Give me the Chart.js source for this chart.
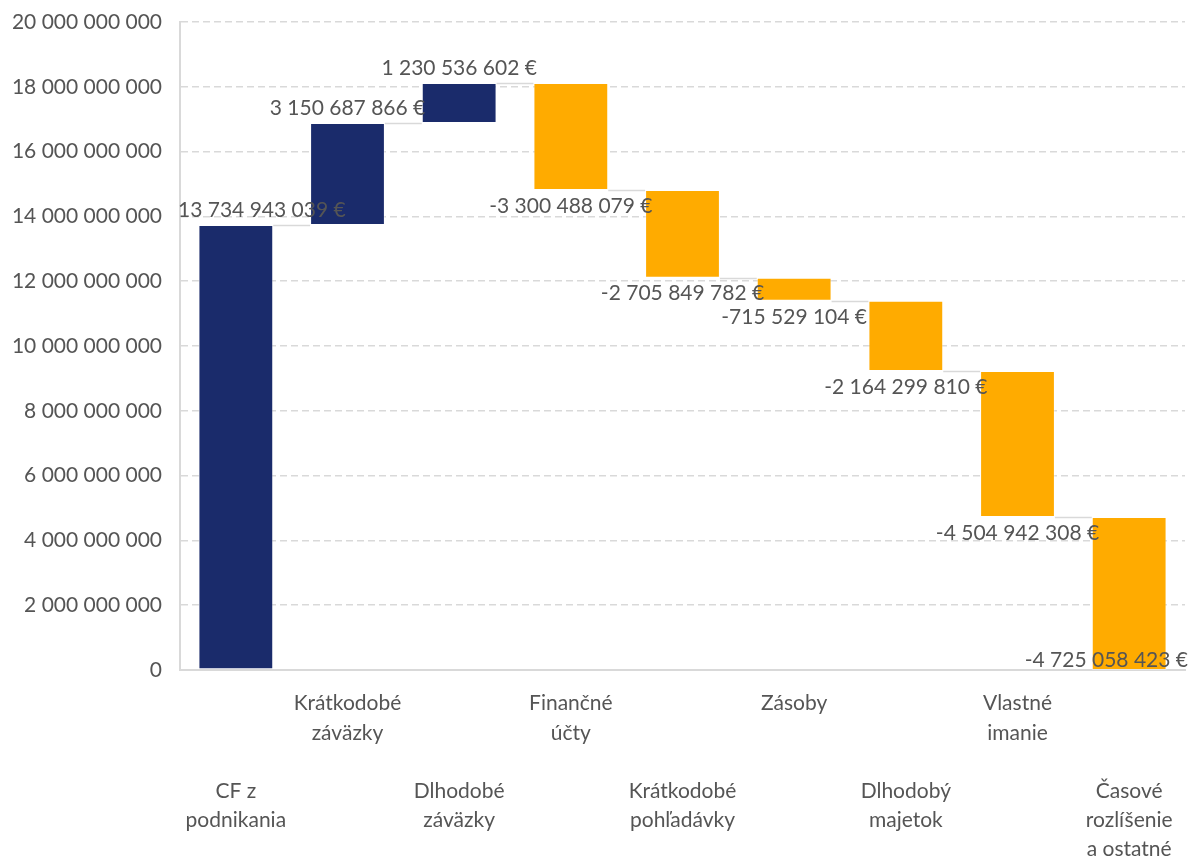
<!DOCTYPE html>
<html>
<head>
<meta charset="utf-8">
<script src="https://cdn.jsdelivr.net/npm/chart.js@4.4.1/dist/chart.umd.min.js"></script>
<style>
  html, body { margin: 0; padding: 0; background: #ffffff; }
  #wrap { width: 1190px; height: 858px; position: relative; }
</style>
</head>
<body>
<div id="wrap"><canvas id="c" width="1190" height="858"></canvas></div>
<script>
// ---- Data ----
const categories = [
  ['CF z', 'podnikania'],
  ['Krátkodobé', 'záväzky'],
  ['Dlhodobé', 'záväzky'],
  ['Finančné', 'účty'],
  ['Krátkodobé', 'pohľadávky'],
  ['Zásoby'],
  ['Dlhodobý', 'majetok'],
  ['Vlastné', 'imanie'],
  ['Časové', 'rozlíšenie', 'a ostatné']
];
const values = [
  13734943039, 3150687866, 1230536602, -3300488079, -2705849782,
  -715529104, -2164299810, -4504942308, -4725058423
];
const yMin = 0;
const yMax = 20000000000;
const yStep = 2000000000;

// ---- Derived (waterfall ranges) ----
const ranges = [];
const ends = [];
let run = 0;
values.forEach((v) => { const s = run; run += v; ranges.push([s, run]); ends.push(run); });

const BLUE = '#1a2b6b';
const ORANGE = '#ffab00';
const TEXT = '#555555';
const FONT = 'Lato';

function fmt(n) {
  const s = String(Math.abs(Math.round(n))).replace(/\B(?=(\d{3})+(?!\d))/g, ' ');
  return (n < 0 ? '-' : '') + s;
}

const connectorPlugin = {
  id: 'connectors',
  afterDatasetsDraw(chart) {
    const ctx = chart.ctx;
    const meta = chart.getDatasetMeta(0);
    const y = chart.scales.y;
    ctx.save();
    ctx.strokeStyle = '#d9d9d9';
    ctx.lineWidth = 1.5;
    for (let i = 0; i < meta.data.length - 1; i++) {
      const a = meta.data[i], b = meta.data[i + 1];
      const py = Math.round(y.getPixelForValue(ends[i])) + 0.5;
      ctx.beginPath();
      ctx.moveTo(a.x + a.width / 2, py);
      ctx.lineTo(b.x - b.width / 2, py);
      ctx.stroke();
    }
    ctx.restore();
  }
};

const labelPlugin = {
  id: 'valueLabels',
  afterDatasetsDraw(chart) {
    const ctx = chart.ctx;
    const meta = chart.getDatasetMeta(0);
    const y = chart.scales.y;
    const area = chart.chartArea;
    ctx.save();
    ctx.font = '21px ' + FONT;
    ctx.fillStyle = TEXT;
    ctx.textBaseline = 'middle';
    ctx.textAlign = 'left';
    values.forEach((v, i) => {
      const el = meta.data[i];
      const txt = fmt(v) + ' €';
      const w = ctx.measureText(txt).width;
      let x = el.x - w / 2;
      if (x < area.left - 2) x = area.left - 2;
      if (x + w > chart.width - 2) x = chart.width - 2 - w;
      let ty;
      if (v >= 0) {
        ty = y.getPixelForValue(ranges[i][1]) - 15;
      } else {
        ty = y.getPixelForValue(ranges[i][1]) + 16;
        if (ty > area.bottom - 10) ty = area.bottom - 10;
      }
      ctx.fillText(txt, x, ty);
    });
    ctx.restore();
  }
};

new Chart(document.getElementById('c'), {
  type: 'bar',
  data: {
    labels: categories,
    datasets: [{
      data: ranges,
      backgroundColor: values.map((v, i) => (i === 0 || v >= 0) ? BLUE : ORANGE),
      borderColor: 'rgba(255,255,255,0.35)',
      borderWidth: 1,
      borderSkipped: false,
      categoryPercentage: 1.0,
      barPercentage: 0.67
    }]
  },
  options: {
    responsive: false,
    animation: false,
    layout: { padding: { top: 22, right: 5, bottom: 0, left: 0 } },
    plugins: {
      legend: { display: false },
      tooltip: { enabled: false }
    },
    scales: {
      x: {
        grid: { display: false, drawTicks: false },
        border: { display: true, color: '#d9d9d9', width: 2 },
        ticks: {
          autoSkip: false,
          maxRotation: 0,
          minRotation: 0,
          padding: 19,
          color: TEXT,
          font: { family: FONT, size: 21, lineHeight: '29.2px' },
          callback: (val, idx) => (idx % 2 === 0) ? ['', '', ''].concat(categories[idx]) : categories[idx]
        },
        afterFit: (s) => { s.height = 188; s.paddingLeft = 0; s.paddingRight = 0; }
      },
      y: {
        min: yMin,
        max: yMax,
        grid: { color: '#d9d9d9', lineWidth: 1.5, drawTicks: false },
        border: { display: true, color: '#d9d9d9', width: 2, dash: [7, 4] },
        ticks: {
          stepSize: yStep,
          padding: 18,
          color: TEXT,
          font: { family: FONT, size: 21 },
          callback: (v) => fmt(v)
        },
        afterFit: (s) => { s.width = 180; s.paddingTop = 0; s.paddingBottom = 0; }
      }
    }
  },
  plugins: [connectorPlugin, labelPlugin]
});
</script>
</body>
</html>
